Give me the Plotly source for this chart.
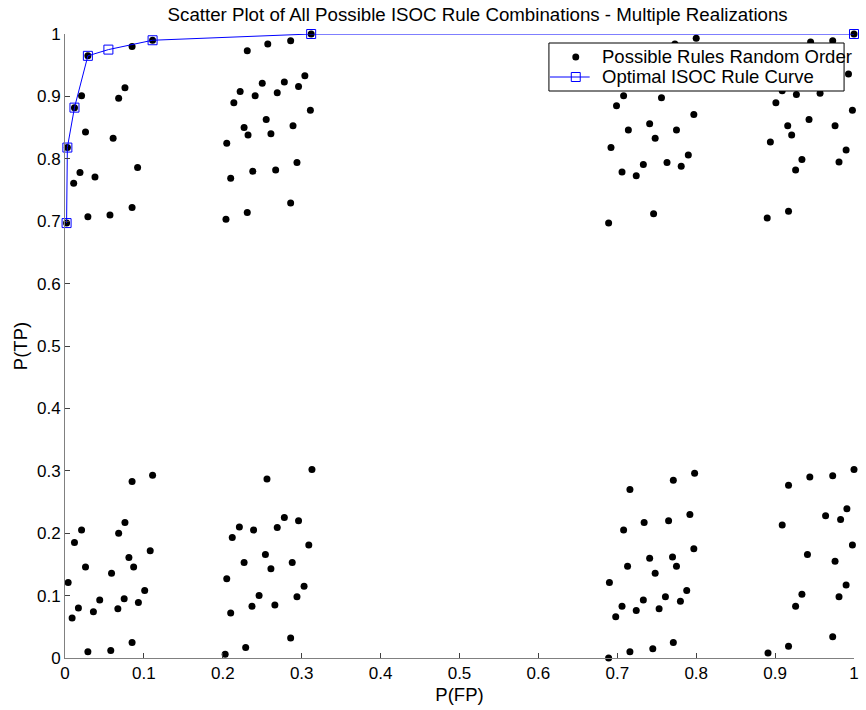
import plotly.graph_objects as go

# P(FP) / P(TP) of every possible rule combination, in random order
rule_fp = [
    # low FP, high TP
    0.002, 0.003, 0.012, 0.029, 0.111, 0.312,
    0.021, 0.026, 0.019, 0.011, 0.038, 0.029, 0.057, 0.085, 0.061, 0.068, 0.076, 0.085, 0.092,
    # ~0.2-0.3 FP, high TP
    0.205, 0.214, 0.222, 0.210, 0.204, 0.231, 0.231, 0.257, 0.286, 0.227, 0.232, 0.241, 0.250,
    0.255, 0.261, 0.269, 0.278, 0.296, 0.304, 0.311, 0.289, 0.294, 0.267, 0.238, 0.286,
    # ~0.7-0.8 FP, high TP
    0.800, 0.773, 0.708, 0.699, 0.756, 0.797, 0.714, 0.741, 0.748, 0.775, 0.692, 0.706,
    0.724, 0.733, 0.763, 0.781, 0.790, 0.746, 0.689,
    # ~0.9-1 FP, high TP
    1.000, 0.945, 0.973, 0.993, 0.909, 0.927, 0.957, 0.901, 0.998, 0.943, 0.916, 0.921,
    0.976, 0.894, 0.934, 0.926, 0.990, 0.981, 0.917, 0.890,
    # low FP, low TP
    0.004, 0.009, 0.012, 0.021, 0.017, 0.026, 0.029, 0.036, 0.044, 0.058, 0.059, 0.067,
    0.068, 0.075, 0.076, 0.081, 0.085, 0.087, 0.085, 0.093, 0.101, 0.108, 0.111,
    # ~0.2-0.3 FP, low TP
    0.203, 0.205, 0.210, 0.212, 0.221, 0.227, 0.229, 0.237, 0.239, 0.246, 0.254, 0.256,
    0.261, 0.266, 0.269, 0.278, 0.286, 0.288, 0.294, 0.296, 0.303, 0.309, 0.313,
    # ~0.7-0.8 FP, low TP
    0.689, 0.690, 0.698, 0.706, 0.708, 0.713, 0.716, 0.716, 0.724, 0.733, 0.734, 0.741,
    0.745, 0.748, 0.753, 0.761, 0.765, 0.770, 0.771, 0.771, 0.775, 0.780, 0.788, 0.792,
    0.797, 0.798,
    # ~0.9-1 FP, low TP
    0.891, 0.909, 0.917, 0.917, 0.926, 0.934, 0.941, 0.944, 0.964, 0.973, 0.973, 0.976,
    0.981, 0.983, 0.990, 0.991, 0.998, 1.000,
]
rule_tp = [
    0.697, 0.818, 0.882, 0.965, 0.990, 1.000,
    0.901, 0.843, 0.778, 0.761, 0.771, 0.707, 0.710, 0.722, 0.833, 0.897, 0.914, 0.980, 0.786,
    0.825, 0.890, 0.908, 0.769, 0.703, 0.714, 0.973, 0.984, 0.989, 0.850, 0.838, 0.901, 0.921,
    0.863, 0.840, 0.906, 0.923, 0.916, 0.933, 0.878, 0.853, 0.794, 0.782, 0.780, 0.729,
    0.993, 0.984, 0.901, 0.885, 0.898, 0.871, 0.846, 0.856, 0.833, 0.846, 0.818, 0.779,
    0.773, 0.791, 0.794, 0.788, 0.806, 0.712, 0.697,
    1.000, 0.987, 0.989, 0.936, 0.909, 0.903, 0.905, 0.890, 0.878, 0.863, 0.853, 0.838,
    0.853, 0.827, 0.799, 0.782, 0.814, 0.795, 0.716, 0.705,
    0.121, 0.064, 0.185, 0.205, 0.080, 0.146, 0.010, 0.074, 0.093, 0.012, 0.136, 0.079,
    0.200, 0.095, 0.217, 0.161, 0.283, 0.146, 0.025, 0.089, 0.108, 0.172, 0.293,
    0.006, 0.127, 0.072, 0.193, 0.210, 0.153, 0.017, 0.083, 0.205, 0.100, 0.166, 0.287,
    0.143, 0.085, 0.209, 0.225, 0.032, 0.153, 0.098, 0.220, 0.115, 0.181, 0.302,
    0.000, 0.121, 0.066, 0.083, 0.205, 0.147, 0.270, 0.010, 0.076, 0.093, 0.217, 0.160,
    0.015, 0.136, 0.079, 0.098, 0.220, 0.162, 0.285, 0.025, 0.147, 0.091, 0.108, 0.230,
    0.175, 0.296,
    0.008, 0.213, 0.277, 0.019, 0.083, 0.102, 0.166, 0.290, 0.228, 0.292, 0.034, 0.155,
    0.098, 0.222, 0.117, 0.239, 0.181, 0.302,
]

# Optimal ISOC rule curve
curve_fp = [0.002, 0.003, 0.012, 0.029, 0.055, 0.111, 0.312, 1.000]
curve_tp = [0.697, 0.818, 0.882, 0.965, 0.975, 0.990, 1.000, 1.000]

tick_vals = [i / 10 for i in range(11)]
tick_text = ["0", "0.1", "0.2", "0.3", "0.4", "0.5", "0.6", "0.7", "0.8", "0.9", "1"]

series_names = ["Possible Rules Random Order", "Optimal ISOC Rule Curve"]

FONT = "Arial, Liberation Sans, sans-serif"
W, H = 866, 710
M_L, M_R, M_T, M_B = 65, 7, 34, 52
PLOT_W = W - M_L - M_R
PLOT_H = H - M_T - M_B
BLUE = "#0000ff"


def px_x(px):
    """Page pixel column -> paper x."""
    return (px - M_L) / PLOT_W


def px_y(py):
    """Page pixel row -> paper y."""
    return (H - M_B - py) / PLOT_H


fig = go.Figure()
fig.add_trace(go.Scatter(
    x=rule_fp, y=rule_tp, mode="markers",
    name=series_names[0], showlegend=False,
    marker=dict(color="black", size=7, line=dict(width=0)),
    cliponaxis=False,
))
fig.add_trace(go.Scatter(
    x=curve_fp, y=curve_tp, mode="lines+markers",
    name=series_names[1], showlegend=False,
    line=dict(color=BLUE, width=1),
    marker=dict(symbol="square-open", size=9, color=BLUE, line=dict(width=1, color=BLUE)),
    cliponaxis=False,
))

# Compact boxed legend in the upper-right corner of the axes
box_l, box_r, box_t, box_b = 552, 849, 43, 91
row_y = [57, 77]
sym_x = 579
text_x = 603
shapes = [
    dict(type="rect", xref="paper", yref="paper", layer="above",
         x0=px_x(box_l), x1=px_x(box_r), y0=px_y(box_b), y1=px_y(box_t),
         fillcolor="white", line=dict(color="black", width=1)),
    dict(type="circle", xref="paper", yref="paper", layer="above",
         x0=px_x(sym_x - 3.5), x1=px_x(sym_x + 3.5),
         y0=px_y(row_y[0] + 3.5), y1=px_y(row_y[0] - 3.5),
         fillcolor="black", line=dict(width=0)),
    dict(type="line", xref="paper", yref="paper", layer="above",
         x0=px_x(553), x1=px_x(593), y0=px_y(row_y[1]), y1=px_y(row_y[1]),
         line=dict(color=BLUE, width=1)),
    dict(type="rect", xref="paper", yref="paper", layer="above",
         x0=px_x(sym_x - 4.5), x1=px_x(sym_x + 4.5),
         y0=px_y(row_y[1] + 4.5), y1=px_y(row_y[1] - 4.5),
         fillcolor="rgba(0,0,0,0)", line=dict(color=BLUE, width=1)),
]
annotations = [
    dict(xref="paper", yref="paper", x=px_x(text_x), y=px_y(ry),
         xanchor="left", yanchor="middle", text=name, showarrow=False,
         font=dict(family=FONT, size=18.5, color="black"))
    for name, ry in zip(series_names, row_y)
]

axis_common = dict(
    range=[0, 1], tickvals=tick_vals, ticktext=tick_text,
    showgrid=False, zeroline=False, showline=True, linecolor="#808080", linewidth=1,
    ticks="inside", ticklen=5, tickcolor="#404040", tickwidth=1,
    tickfont=dict(family=FONT, size=17, color="black"),
    title_font=dict(family=FONT, size=18.5, color="black"),
)

fig.update_layout(
    width=W, height=H,
    margin=dict(l=M_L, r=M_R, t=M_T, b=M_B),
    paper_bgcolor="white", plot_bgcolor="white",
    font=dict(family=FONT, size=18.5, color="black"),
    title=dict(
        text="Scatter Plot of All Possible ISOC Rule Combinations - Multiple Realizations",
        x=0.523, xref="paper", xanchor="center",
        y=1 - 14 / H, yref="container", yanchor="middle",
        font=dict(family=FONT, size=18.7, color="black"),
    ),
    xaxis=dict(axis_common, title=dict(text="P(FP)", standoff=5)),
    yaxis=dict(axis_common, title=dict(text="P(TP)", standoff=4)),
    shapes=shapes,
    annotations=annotations,
    showlegend=False,
)

fig.write_html("out.html")
